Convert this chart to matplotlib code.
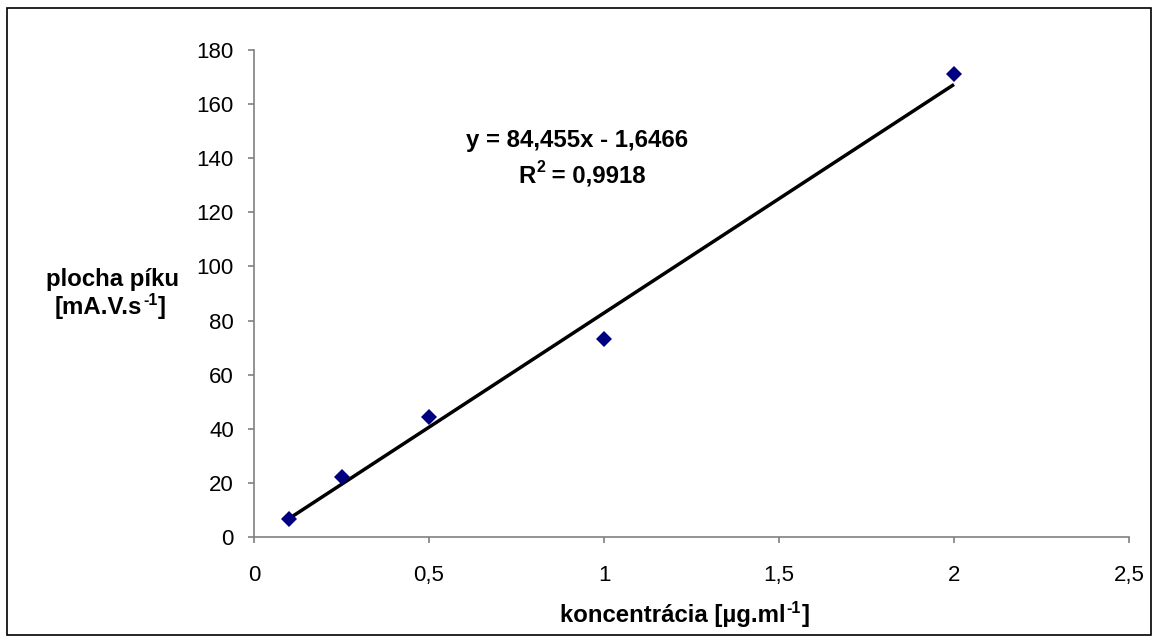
import matplotlib
matplotlib.use("Agg")
import matplotlib.pyplot as plt
import numpy as np
from matplotlib.patches import Rectangle

plt.rcParams['font.family'] = ['Liberation Sans', 'DejaVu Sans']

conc = [0.1, 0.25, 0.5, 1.0, 2.0]
area = [6.5, 22.0, 44.5, 73.0, 171.0]
slope = 84.455
intercept = -1.6466
eq_text = 'y = 84,455x - 1,6466'
r2_text = ' = 0,9918'
xticks = [0, 0.5, 1, 1.5, 2, 2.5]
xticklabels = ['0', '0,5', '1', '1,5', '2', '2,5']
yticks = list(range(0, 181, 20))

W, H = 1159, 643
FS = 16
BFS = 17.3
SUP = 11.5

fig = plt.figure(figsize=(W/100, H/100), dpi=100)
ax = fig.add_axes([254/W, 1-537/H, (1129-254)/W, (537-50)/H])

xf = np.array([min(conc), max(conc)])
ax.plot(xf, slope*xf + intercept, color='black', lw=2.5, zorder=2,
        solid_capstyle='butt')
ax.plot(conc, area, linestyle='none', marker='D', markersize=8.5,
        color='#000080', markeredgewidth=0, zorder=3)

ax.set_xlim(0, 2.5)
ax.set_ylim(0, 180)
ax.set_xticks(xticks)
ax.set_xticklabels(xticklabels)
ax.set_yticks(yticks)
for s in ['top', 'right']:
    ax.spines[s].set_visible(False)
for s in ['left', 'bottom']:
    ax.spines[s].set_color('#808080')
    ax.spines[s].set_linewidth(1.2)
ax.tick_params(axis='both', direction='out', length=4.5, width=1.2,
               color='#808080', labelsize=FS)
ax.tick_params(axis='y', pad=10)
ax.tick_params(axis='x', pad=15.5)


def sup_text(x_px, y_px, base, sup, tail, ha='left'):
    t1 = fig.text(x_px/W, 1-y_px/H, base, fontsize=BFS, fontweight='bold',
                  ha=ha, va='baseline')
    t2 = ax.annotate(sup, xy=(1, 1), xycoords=t1, xytext=(0.5, 2),
                     textcoords='offset points', ha='left', va='top',
                     fontsize=SUP, fontweight='bold', annotation_clip=False)
    t3 = ax.annotate(tail, xy=(1, 0), xycoords=(t2, t1), xytext=(0.5, 0),
                     textcoords='offset points', ha='left', va='bottom',
                     fontsize=BFS, fontweight='bold', annotation_clip=False)
    return t1, t2, t3


# x label
sup_text(560, 622, 'koncentrácia [µg.ml', '-1', ']')
# y label
fig.text(113/W, 1-286/H, 'plocha píku', fontsize=BFS, fontweight='bold',
         ha='center', va='baseline')
sup_text(55, 314, '[mA.V.s', '-1', ']')
# regression equation
fig.text(577.5/W, 1-147/H, eq_text, fontsize=BFS, fontweight='bold',
         ha='center', va='baseline')
r1 = fig.text(518/W, 1-183/H, 'R', fontsize=BFS, fontweight='bold',
              ha='left', va='baseline')
r2s = ax.annotate('2', xy=(1, 1), xycoords=r1, xytext=(0.5, 3.5),
                  textcoords='offset points', ha='left', va='top',
                  fontsize=SUP, fontweight='bold', annotation_clip=False)
ax.annotate(r2_text, xy=(1, 0), xycoords=(r2s, r1), xytext=(0, 0),
            textcoords='offset points', ha='left', va='bottom',
            fontsize=BFS, fontweight='bold', annotation_clip=False)

fig.patches.append(Rectangle((7/W, 8/H), 1144/W, 627/H,
                             transform=fig.transFigure, fill=False,
                             edgecolor='black', lw=1.2))

fig.savefig('out.png', dpi=100, facecolor='white')
